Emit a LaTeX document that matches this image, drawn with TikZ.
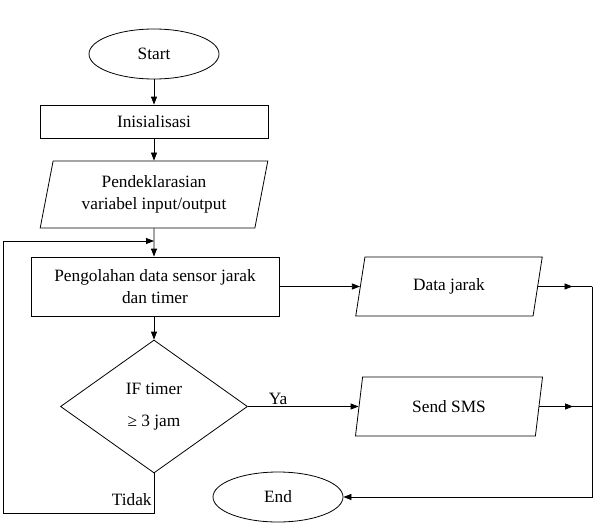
\documentclass[tikz,border=0pt]{standalone}
\usepackage{fontspec}
\setmainfont{LiberationSerif-Regular.ttf}
\usetikzlibrary{shapes.geometric,arrows.meta,decorations.markings}
\begin{document}
\begin{tikzpicture}[x=1pt,y=-1pt,
  every node/.style={font=\rmfamily\fontsize{17.3}{21.5}\selectfont, inner sep=0pt},
  line width=0.8pt,
  term/.style={draw, ellipse, minimum width=130pt, minimum height=50pt},
  proc/.style={draw, rectangle, align=center},
  io/.style={draw, trapezium, trapezium left angle=76, trapezium right angle=104,
             trapezium stretches=true, align=center},
  decis/.style={draw, diamond, align=center},
  arr/.style={-{Triangle[length=8pt,width=6pt]}},
  midarr/.style={postaction={decorate}, decoration={markings,
     mark=at position #1 with {\arrow{Triangle[length=8pt,width=6pt]}}}}
]
\useasboundingbox (0,0) rectangle (594,522);

\node[term] (start) at (154,54) {Start};
\node[proc, minimum width=228pt, minimum height=33pt] (init) at (154,121.5) {Inisialisasi};
\node[io, minimum width=228pt, minimum height=67pt] (decl) at (154,194.5) {Pendeklarasian\\variabel input/output};
\node[proc, minimum width=248pt, minimum height=59pt] (proc) at (155,286.5) {Pengolahan data sensor jarak\\dan timer};
\node[decis, minimum width=187pt, minimum height=133pt] (if) at (154,406.5) {IF timer\\[11pt]≥ 3 jam};
\node[io, minimum width=188pt, minimum height=59pt] (dj) at (449,286.5) {Data jarak};
\node[io, minimum width=188pt, minimum height=59pt] (sms) at (449,406.5) {Send SMS};
\node[term] (end) at (278,497) {End};

\coordinate (r1) at (592,286.5);
\coordinate (r2) at (592,406.5);
\coordinate (fb1) at (154,513);
\coordinate (fb2) at (3,513);
\coordinate (fb3) at (3,241);
\coordinate (fb4) at (154,241);

\draw[arr] (start) -- (init);
\draw[arr] (init) -- (decl);
\draw[arr] (decl) -- (proc.north -| decl);
\draw[arr] (if |- proc.south) -- (if.north);
\draw[arr] (proc) -- (dj);
\draw[arr] (if) -- (sms);
\node at (278,399) {Ya};
\draw[midarr=0.64] (dj) -- (r1);
\draw[midarr=0.64] (sms) -- (r2);
\draw[arr] (r1) |- (end);
\draw[arr] (if.south) -- (fb1) -- (fb2) -- (fb3) -- (fb4);
\node[anchor=east] at (152,500) {Tidak};
\end{tikzpicture}
\end{document}
